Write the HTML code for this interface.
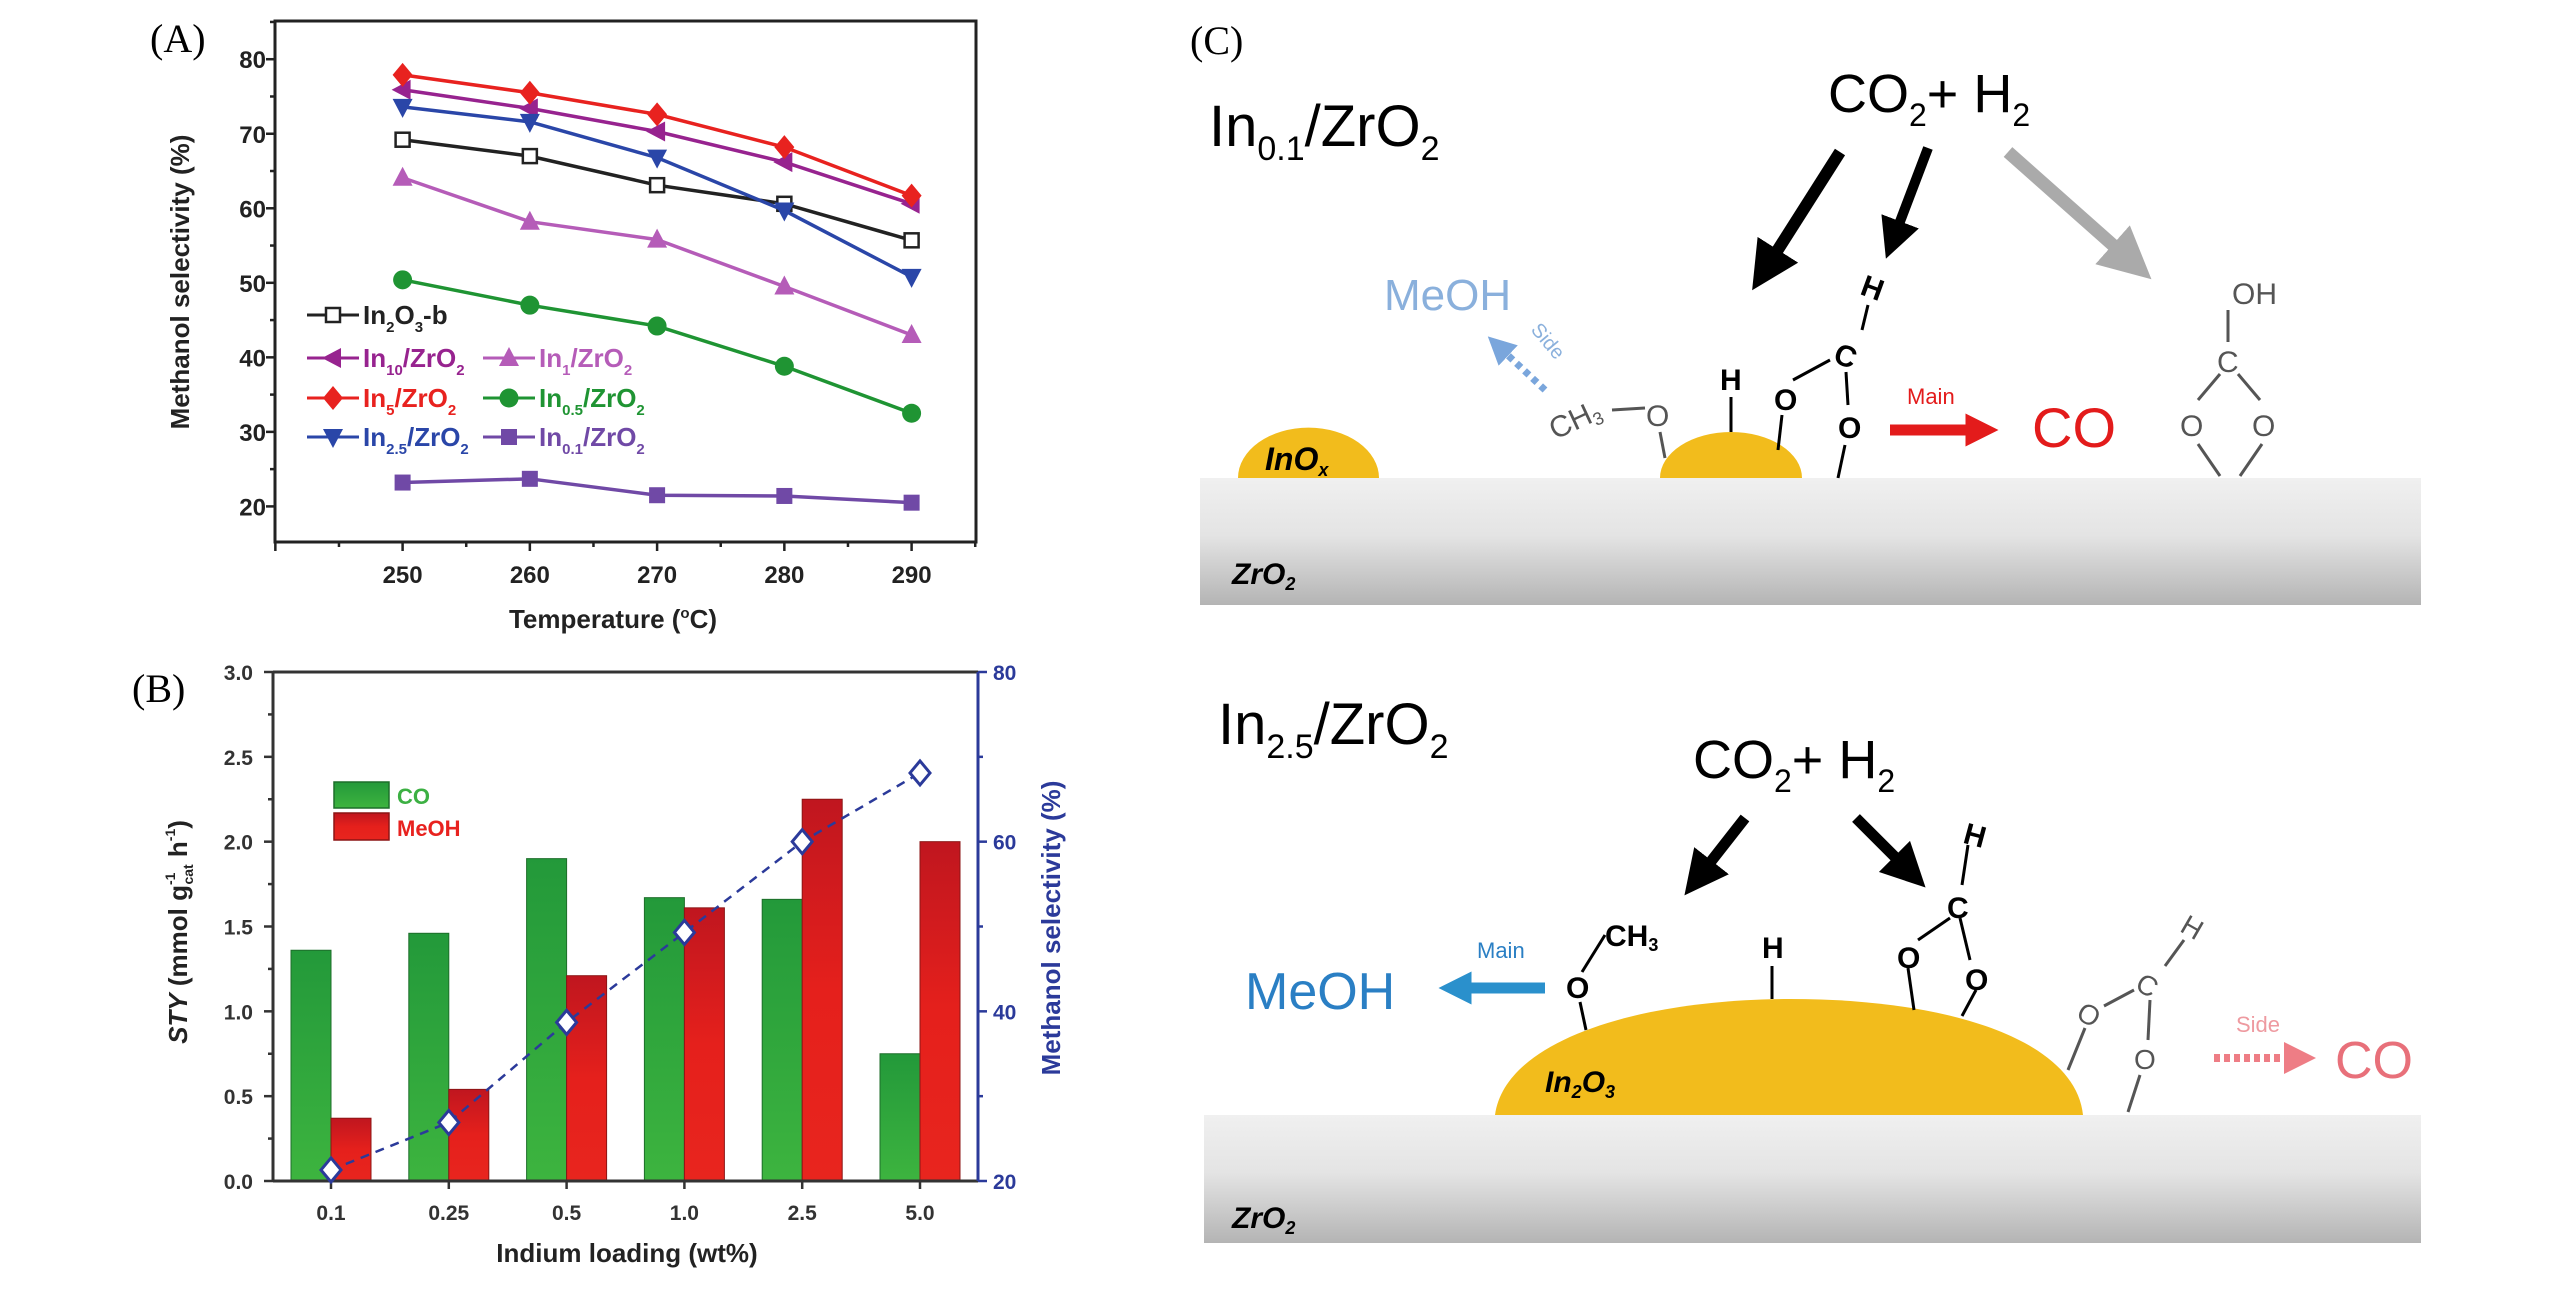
<!DOCTYPE html>
<html><head><meta charset="utf-8">
<style>
html,body{margin:0;padding:0;background:#fff;}
svg{display:block;font-family:"Liberation Sans",sans-serif;}
.b{font-weight:bold;}
</style></head>
<body>
<svg id="fig" width="2567" height="1291" viewBox="0 0 2567 1291" xmlns="http://www.w3.org/2000/svg">
<defs>
<linearGradient id="slab" x1="0" y1="0" x2="0" y2="1"><stop offset="0" stop-color="#f0f0f0"/><stop offset="0.45" stop-color="#e4e4e4"/><stop offset="1" stop-color="#b4b4b4"/></linearGradient>
<linearGradient id="gG" x1="0" y1="0" x2="0" y2="1"><stop offset="0" stop-color="#23993a"/><stop offset="1" stop-color="#3db43f"/></linearGradient>
<linearGradient id="gR" x1="0" y1="0" x2="0" y2="1"><stop offset="0" stop-color="#c0161f"/><stop offset="0.5" stop-color="#e5201c"/><stop offset="1" stop-color="#e8251e"/></linearGradient>
<marker id="ahB" markerWidth="4" markerHeight="4" refX="2" refY="2" orient="auto" markerUnits="strokeWidth"><path d="M0,0 L4,2 L0,4 z" fill="#000"/></marker>
<marker id="ahG" markerWidth="4" markerHeight="4" refX="2" refY="2" orient="auto" markerUnits="strokeWidth"><path d="M0,0 L4,2 L0,4 z" fill="#aaa"/></marker>
<marker id="ahR" markerWidth="3" markerHeight="3" refX="1.5" refY="1.5" orient="auto" markerUnits="strokeWidth"><path d="M0,0 L3,1.5 L0,3 z" fill="#e31b1b"/></marker>
<marker id="ahBl" markerWidth="3" markerHeight="3" refX="1.5" refY="1.5" orient="auto" markerUnits="strokeWidth"><path d="M0,0 L3,1.5 L0,3 z" fill="#2a90cc"/></marker>
<marker id="ahLb" markerWidth="4" markerHeight="4" refX="2" refY="2" orient="auto" markerUnits="strokeWidth"><path d="M0,0 L4,2 L0,4 z" fill="#7aa6dc"/></marker>
<marker id="ahP" markerWidth="4" markerHeight="4" refX="2" refY="2" orient="auto" markerUnits="strokeWidth"><path d="M0,0 L4,2 L0,4 z" fill="#ee7d85"/></marker>
</defs>

<text x="150" y="52" font-family="Liberation Serif, serif" font-size="40">(A)</text>
<text x="132" y="702" font-family="Liberation Serif, serif" font-size="40">(B)</text>
<text x="1190" y="54" font-family="Liberation Serif, serif" font-size="40">(C)</text>

<g id="chartA"></g>
<g id="chartB"></g>

<g>
<rect x="1200" y="478" width="1221" height="127" fill="url(#slab)"/>
<text x="1232" y="584" class="b" font-style="italic" font-size="30">ZrO<tspan font-size="18" dy="6">2</tspan></text>
<path d="M1238,478 A70,50 0 0 1 1379,478 Z" fill="#f2bc1c"/>
<text x="1265" y="470" class="b" font-style="italic" font-size="32">InO<tspan font-size="18" dy="6">x</tspan></text>
<path d="M1660,478 A71,46 0 0 1 1802,478 Z" fill="#f2bc1c"/>
<text x="1209" y="146" font-size="58">In<tspan font-size="34" dy="14">0.1</tspan><tspan dy="-14">/ZrO</tspan><tspan font-size="34" dy="14">2</tspan></text>
<text x="1828" y="112" font-size="54">CO<tspan font-size="32" dy="14">2</tspan><tspan dy="-14">+ H</tspan><tspan font-size="32" dy="14">2</tspan></text>
<line x1="1840" y1="152" x2="1765" y2="270" stroke="#000" stroke-width="12" marker-end="url(#ahB)"/>
<line x1="1928" y1="148" x2="1893" y2="240" stroke="#000" stroke-width="10" marker-end="url(#ahB)"/>
<line x1="2008" y1="152" x2="2132" y2="262" stroke="#aaa" stroke-width="13" marker-end="url(#ahG)"/>
<text x="1384" y="310" font-size="44" fill="#8ab0dc">MeOH</text>
<line x1="1545" y1="390" x2="1498" y2="346" stroke="#7aa6dc" stroke-width="7" stroke-dasharray="6,5" marker-end="url(#ahLb)"/>
<text x="1530" y="330" font-size="20" fill="#8ab0dc" transform="rotate(50 1530 330)">Side</text>
<text x="1555" y="440" font-size="30" fill="#555" transform="rotate(-25 1555 440)">CH<tspan font-size="18" dy="5">3</tspan></text>
<g stroke="#555" stroke-width="3" fill="none"><line x1="1612" y1="410" x2="1645" y2="408"/><line x1="1660" y1="432" x2="1665" y2="458"/></g>
<text x="1646" y="426" font-size="30" fill="#555">O</text>
<text x="1720" y="390" class="b" font-size="30">H</text>
<line x1="1731" y1="397" x2="1731" y2="432" stroke="#000" stroke-width="3"/>
<text x="1774" y="410" class="b" font-size="30">O</text>
<text x="1835" y="366" class="b" font-size="30" transform="rotate(20 1845 355)">C</text>
<text x="1862" y="298" class="b" font-size="30" transform="rotate(20 1872 287)">H</text>
<text x="1838" y="438" class="b" font-size="30">O</text>
<g stroke="#000" stroke-width="3"><line x1="1793" y1="380" x2="1830" y2="360"/><line x1="1862" y1="330" x2="1868" y2="305"/><line x1="1846" y1="372" x2="1848" y2="405"/><line x1="1782" y1="415" x2="1778" y2="450"/><line x1="1845" y1="445" x2="1838" y2="478"/></g>
<line x1="1890" y1="430" x2="1982" y2="430" stroke="#e31b1b" stroke-width="11" marker-end="url(#ahR)"/>
<text x="1907" y="404" font-size="22" fill="#e31b1b">Main</text>
<text x="2032" y="447" font-size="56" fill="#e31b1b">CO</text>
<g fill="#555" font-size="30">
<text x="2232" y="304">OH</text>
<text x="2217" y="372">C</text>
<text x="2180" y="436">O</text>
<text x="2252" y="436">O</text>
</g>
<g stroke="#555" stroke-width="3"><line x1="2228" y1="310" x2="2228" y2="342"/><line x1="2220" y1="374" x2="2198" y2="400"/><line x1="2238" y1="374" x2="2260" y2="400"/><line x1="2198" y1="444" x2="2220" y2="476"/><line x1="2262" y1="444" x2="2240" y2="476"/></g>
</g>

<g>
<rect x="1204" y="1115" width="1217" height="128" fill="url(#slab)"/>
<text x="1232" y="1228" class="b" font-style="italic" font-size="30">ZrO<tspan font-size="18" dy="6">2</tspan></text>
<path d="M1495,1115 C1505,1040 1640,999 1790,999 C1950,999 2075,1040 2083,1115 Z" fill="#f2bc1c"/>
<text x="1545" y="1092" class="b" font-style="italic" font-size="30">In<tspan font-size="18" dy="6">2</tspan><tspan dy="-6">O</tspan><tspan font-size="18" dy="6">3</tspan></text>
<text x="1218" y="744" font-size="58">In<tspan font-size="34" dy="14">2.5</tspan><tspan dy="-14">/ZrO</tspan><tspan font-size="34" dy="14">2</tspan></text>
<text x="1693" y="778" font-size="54">CO<tspan font-size="32" dy="14">2</tspan><tspan dy="-14">+ H</tspan><tspan font-size="32" dy="14">2</tspan></text>
<line x1="1745" y1="818" x2="1698" y2="878" stroke="#000" stroke-width="11" marker-end="url(#ahB)"/>
<line x1="1856" y1="818" x2="1910" y2="872" stroke="#000" stroke-width="11" marker-end="url(#ahB)"/>
<text x="1245" y="1009" font-size="52" fill="#2a7fc4">MeOH</text>
<line x1="1545" y1="988" x2="1455" y2="988" stroke="#2a90cc" stroke-width="11" marker-end="url(#ahBl)"/>
<text x="1477" y="958" font-size="22" fill="#2a7fc4">Main</text>
<text x="1566" y="998" class="b" font-size="30">O</text>
<text x="1605" y="946" class="b" font-size="30">CH<tspan font-size="18" dy="5">3</tspan></text>
<text x="1762" y="958" class="b" font-size="30">H</text>
<g stroke="#000" stroke-width="3"><line x1="1582" y1="972" x2="1605" y2="935"/><line x1="1580" y1="1002" x2="1586" y2="1030"/><line x1="1772" y1="966" x2="1772" y2="999"/>
<line x1="1968" y1="845" x2="1962" y2="885"/><line x1="1950" y1="918" x2="1918" y2="940"/><line x1="1960" y1="918" x2="1970" y2="960"/><line x1="1908" y1="968" x2="1914" y2="1010"/><line x1="1976" y1="990" x2="1962" y2="1016"/></g>
<text x="1964" y="846" class="b" font-size="30" transform="rotate(15 1976 836)">H</text>
<text x="1947" y="918" class="b" font-size="30">C</text>
<text x="1897" y="968" class="b" font-size="30">O</text>
<text x="1965" y="990" class="b" font-size="30">O</text>
<g fill="#555" font-size="28">
<text x="2182" y="938" transform="rotate(30 2194 928)">H</text>
<text x="2137" y="996" transform="rotate(30 2149 986)">C</text>
<text x="2078" y="1025" transform="rotate(30 2090 1015)">O</text>
<text x="2134" y="1069">O</text>
</g>
<g stroke="#555" stroke-width="3"><line x1="2165" y1="966" x2="2184" y2="940"/><line x1="2104" y1="1006" x2="2134" y2="990"/><line x1="2150" y1="1000" x2="2148" y2="1040"/><line x1="2085" y1="1028" x2="2068" y2="1070"/><line x1="2140" y1="1075" x2="2128" y2="1112"/></g>
<line x1="2214" y1="1058" x2="2300" y2="1058" stroke="#ee7d85" stroke-width="8" stroke-dasharray="6,4" marker-end="url(#ahP)"/>
<text x="2236" y="1032" font-size="22" fill="#ee9aa0">Side</text>
<text x="2335" y="1078" font-size="52" fill="#e8707a">CO</text>
</g>

<script>
// ===== Panel A data =====
const tempsA = [250, 260, 270, 280, 290];
const sIn2O3b = [69.2, 67.0, 63.1, 60.6, 55.7];
const sIn10 = [75.9, 73.4, 70.3, 66.2, 60.6];
const sIn5 = [77.9, 75.5, 72.6, 68.2, 61.7];
const sIn25 = [73.6, 71.6, 66.8, 59.7, 50.8];
const sIn1 = [64.1, 58.2, 55.8, 49.5, 43.0];
const sIn05 = [50.4, 47.0, 44.2, 38.8, 32.5];
const sIn01 = [23.2, 23.7, 21.5, 21.4, 20.5];
const yTicksA = [20, 30, 40, 50, 60, 70, 80];
const xTicksA = [250, 260, 270, 280, 290];
// ===== Panel B data =====
const loadings = ["0.1", "0.25", "0.5", "1.0", "2.5", "5.0"];
const styCO = [1.36, 1.46, 1.90, 1.67, 1.66, 0.75];
const styMeOH = [0.37, 0.54, 1.21, 1.61, 2.25, 2.00];
const selB = [21.3, 26.9, 38.7, 49.3, 60.0, 68.1];
const yTicksBL = ["0.0", "0.5", "1.0", "1.5", "2.0", "2.5", "3.0"];
const yTicksBR = [20, 40, 60, 80];

const NS = "http://www.w3.org/2000/svg";
function mk(parent, tag, attrs, txt) {
  const e = document.createElementNS(NS, tag);
  for (const k in attrs) e.setAttribute(k, attrs[k]);
  if (txt !== undefined) e.textContent = txt;
  parent.appendChild(e);
  return e;
}
// spans: array of [text, attrs]
function addSpans(t, spans) {
  spans.forEach(s => mk(t, 'tspan', s[1] || {}, s[0]));
}

// ---------- Chart A ----------
(function () {
  const g = document.getElementById('chartA');
  const L = 275, R = 976, T = 21, B = 542;
  const xA = v => 402.6 + (v - 250) * 12.725;
  const yA = v => 506.4 - (v - 20) * 7.453;
  let e;
  e = mk(g, 'rect', {x: L, y: T, width: R - L, height: B - T, fill: 'none', stroke: '#222', 'stroke-width': 3});
  
  
  for (let v = 15; v <= 85; v += 5) {
    const y = yA(v); if (y < T || y > B) continue;
    mk(g, 'line', {x1: L, x2: L - (v % 10 === 0 ? 9 : 5), y1: y, y2: y, stroke: '#222', 'stroke-width': 2.5});
  }
  yTicksA.forEach(v => {
    e = mk(g, 'text', {x: 266, y: yA(v) + 9, 'text-anchor': 'end', 'font-size': 24, 'font-weight': 'bold', fill: '#222'}, String(v));
    
    
  });
  for (let v = 240; v <= 295; v += 5) {
    const x = xA(v); if (x < L - 1 || x > R + 1) continue;
    mk(g, 'line', {x1: x, x2: x, y1: B, y2: B + (v % 10 === 0 ? 9 : 5), stroke: '#222', 'stroke-width': 2.5});
  }
  xTicksA.forEach(v => {
    e = mk(g, 'text', {x: xA(v), y: 583, 'text-anchor': 'middle', 'font-size': 24, 'font-weight': 'bold', fill: '#222'}, String(v));
    
    
  });
  e = mk(g, 'text', {x: 0, y: 0, 'text-anchor': 'middle', 'font-size': 26, 'font-weight': 'bold', fill: '#222', transform: 'translate(189,282) rotate(-90)'}, 'Methanol selectivity (%)');
  
  
  e = mk(g, 'text', {x: 613, y: 628, 'text-anchor': 'middle', 'font-size': 26, 'font-weight': 'bold', fill: '#222'});
  addSpans(e, [['Temperature ('], ['o', {'font-size': 15, dy: -10}], ['C)', {dy: 10}]]);
  
  

  function marker(p, type, x, y, col) {
    if (type === 'osq') return mk(p, 'rect', {x: x - 7, y: y - 7, width: 14, height: 14, fill: '#fff', stroke: col, 'stroke-width': 2.5});
    if (type === 'sq') return mk(p, 'rect', {x: x - 8, y: y - 8, width: 16, height: 16, fill: col});
    if (type === 'circ') return mk(p, 'circle', {cx: x, cy: y, r: 9.5, fill: col});
    if (type === 'dia') return mk(p, 'path', {d: `M${x},${y - 12}L${x + 10},${y}L${x},${y + 12}L${x - 10},${y}Z`, fill: col});
    if (type === 'lt') return mk(p, 'path', {d: `M${x - 11},${y}L${x + 8},${y - 10}L${x + 8},${y + 10}Z`, fill: col});
    if (type === 'up') return mk(p, 'path', {d: `M${x},${y - 11}L${x + 10},${y + 8}L${x - 10},${y + 8}Z`, fill: col});
    if (type === 'dn') return mk(p, 'path', {d: `M${x},${y + 11}L${x + 10},${y - 8}L${x - 10},${y - 8}Z`, fill: col});
  }
  const series = [
    {d: sIn2O3b, c: '#222', m: 'osq', n: 'series-in2o3-b'},
    {d: sIn1, c: '#b55cb8', m: 'up', n: 'series-in1'},
    {d: sIn10, c: '#97238f', m: 'lt', n: 'series-in10'},
    {d: sIn25, c: '#2a46a8', m: 'dn', n: 'series-in2-5'},
    {d: sIn5, c: '#e8221f', m: 'dia', n: 'series-in5'},
    {d: sIn05, c: '#1f9433', m: 'circ', n: 'series-in0-5'},
    {d: sIn01, c: '#7049a6', m: 'sq', n: 'series-in0-1'}
  ];
  series.forEach(s => {
    const sg = mk(g, 'g', {});
    
    
    const pts = tempsA.map((t, i) => xA(t) + ',' + yA(s.d[i])).join(' ');
    mk(sg, 'polyline', {points: pts, fill: 'none', stroke: s.c, 'stroke-width': 3.5});
    tempsA.forEach((t, i) => {
      const m = marker(sg, s.m, xA(t), yA(s.d[i]), s.c);
      
      
    });
  });
  const leg = [
    {x: 307, y: 315, c: '#222', m: 'osq', t: ['In', '2', 'O', '3', '-b']},
    {x: 307, y: 358, c: '#97238f', m: 'lt', t: ['In', '10', '/ZrO', '2']},
    {x: 307, y: 398, c: '#e8221f', m: 'dia', t: ['In', '5', '/ZrO', '2']},
    {x: 307, y: 437, c: '#2a46a8', m: 'dn', t: ['In', '2.5', '/ZrO', '2']},
    {x: 483, y: 358, c: '#b55cb8', m: 'up', t: ['In', '1', '/ZrO', '2']},
    {x: 483, y: 398, c: '#1f9433', m: 'circ', t: ['In', '0.5', '/ZrO', '2']},
    {x: 483, y: 437, c: '#7049a6', m: 'sq', t: ['In', '0.1', '/ZrO', '2']}
  ];
  leg.forEach(l => {
    const lg = mk(g, 'g', {});
    
    
    mk(lg, 'line', {x1: l.x, x2: l.x + 52, y1: l.y, y2: l.y, stroke: l.c, 'stroke-width': 3});
    marker(lg, l.m, l.x + 26, l.y, l.c);
    const t = mk(lg, 'text', {x: l.x + 56, y: l.y + 9, 'font-size': 26, 'font-weight': 'bold', fill: l.c});
    const sp = l.t.map((p, i) => i % 2 === 1 ? [p, {'font-size': 15, dy: 8}] : [p, {dy: i === 0 ? 0 : -8}]);
    addSpans(t, sp);
  });
})();

// ---------- Chart B ----------
(function () {
  const g = document.getElementById('chartB');
  const L = 273, R = 978, T = 672, B = 1181;
  const xB = i => 331 + i * 117.8;
  const yB = v => B - v * (B - T) / 3;
  const yR = v => B - (v - 20) * (B - T) / 60;
  let e;
  loadings.forEach((c, i) => {
    e = mk(g, 'rect', {x: xB(i) - 40, y: yB(styCO[i]), width: 40, height: B - yB(styCO[i]), fill: 'url(#gG)', stroke: '#1d6e2a', 'stroke-width': 1});
    
    
    e = mk(g, 'rect', {x: xB(i), y: yB(styMeOH[i]), width: 40, height: B - yB(styMeOH[i]), fill: 'url(#gR)', stroke: '#8c1515', 'stroke-width': 1});
    
    
  });
  mk(g, 'line', {x1: L, x2: R, y1: T, y2: T, stroke: '#333', 'stroke-width': 3});
  mk(g, 'line', {x1: L, x2: R, y1: B, y2: B, stroke: '#333', 'stroke-width': 3});
  e = mk(g, 'line', {x1: L, x2: L, y1: T, y2: B, stroke: '#333', 'stroke-width': 3});
  
  
  e = mk(g, 'line', {x1: R, x2: R, y1: T, y2: B, stroke: '#2b3a9a', 'stroke-width': 3});
  
  
  for (let k = 0; k <= 12; k++) {
    const y = yB(k * 0.25);
    mk(g, 'line', {x1: L, x2: L - (k % 2 === 0 ? 9 : 5), y1: y, y2: y, stroke: '#333', 'stroke-width': 2.5});
  }
  yTicksBL.forEach(s => {
    e = mk(g, 'text', {x: 253, y: yB(parseFloat(s)) + 8, 'text-anchor': 'end', 'font-size': 21, 'font-weight': 'bold', fill: '#333'}, s);
    
    
  });
  for (let v = 20; v <= 80; v += 10) {
    mk(g, 'line', {x1: R, x2: R + (v % 20 === 0 ? 9 : 5), y1: yR(v), y2: yR(v), stroke: '#2b3a9a', 'stroke-width': 2.5});
  }
  yTicksBR.forEach(v => {
    e = mk(g, 'text', {x: 993, y: yR(v) + 8, 'font-size': 21, 'font-weight': 'bold', fill: '#2b3a9a'}, String(v));
    
    
  });
  loadings.forEach((c, i) => {
    mk(g, 'line', {x1: xB(i), x2: xB(i), y1: B, y2: B + 8, stroke: '#333', 'stroke-width': 2.5});
    e = mk(g, 'text', {x: xB(i), y: 1220, 'text-anchor': 'middle', 'font-size': 21, 'font-weight': 'bold', fill: '#333'}, c);
    
    
  });
  const pts = loadings.map((c, i) => xB(i) + ',' + yR(selB[i])).join(' ');
  e = mk(g, 'polyline', {points: pts, fill: 'none', stroke: '#2b3a9a', 'stroke-width': 2.5, 'stroke-dasharray': '9,7'});
  
  
  loadings.forEach((c, i) => {
    const x = xB(i), y = yR(selB[i]);
    e = mk(g, 'path', {d: `M${x},${y - 12}L${x + 10},${y}L${x},${y + 12}L${x - 10},${y}Z`, fill: '#fff', stroke: '#2b3a9a', 'stroke-width': 3});
    
    
  });
  e = mk(g, 'rect', {x: 334, y: 782, width: 55, height: 26, fill: 'url(#gG)', stroke: '#1d6e2a', 'stroke-width': 1.5});
  
  
  e = mk(g, 'rect', {x: 334, y: 813, width: 55, height: 27, fill: 'url(#gR)', stroke: '#8c1515', 'stroke-width': 1.5});
  
  
  e = mk(g, 'text', {x: 397, y: 804, 'font-size': 22, 'font-weight': 'bold', fill: '#3cb043'}, 'CO');
  
  
  e = mk(g, 'text', {x: 397, y: 836, 'font-size': 22, 'font-weight': 'bold', fill: '#e8221f'}, 'MeOH');
  
  
  e = mk(g, 'text', {x: 0, y: 0, 'text-anchor': 'middle', 'font-size': 26, 'font-weight': 'bold', fill: '#222', transform: 'translate(187,932) rotate(-90)'});
  addSpans(e, [
    ['STY', {'font-style': 'italic'}],
    [' (mmol g'],
    ['-1', {'font-size': 14, dy: -12}],
    ['cat', {'font-size': 14, dx: -12, dy: 18}],
    [' h', {dy: -6}],
    ['-1', {'font-size': 14, dy: -12}],
    [')', {dy: 12}]
  ]);
  
  
  e = mk(g, 'text', {x: 0, y: 0, 'text-anchor': 'middle', 'font-size': 26, 'font-weight': 'bold', fill: '#2b3a9a', transform: 'translate(1060,928) rotate(-90)'}, 'Methanol selectivity (%)');
  
  
  e = mk(g, 'text', {x: 627, y: 1262, 'text-anchor': 'middle', 'font-size': 26, 'font-weight': 'bold', fill: '#222'}, 'Indium loading (wt%)');
  
  
})();
</script>
</svg>
</body></html>
